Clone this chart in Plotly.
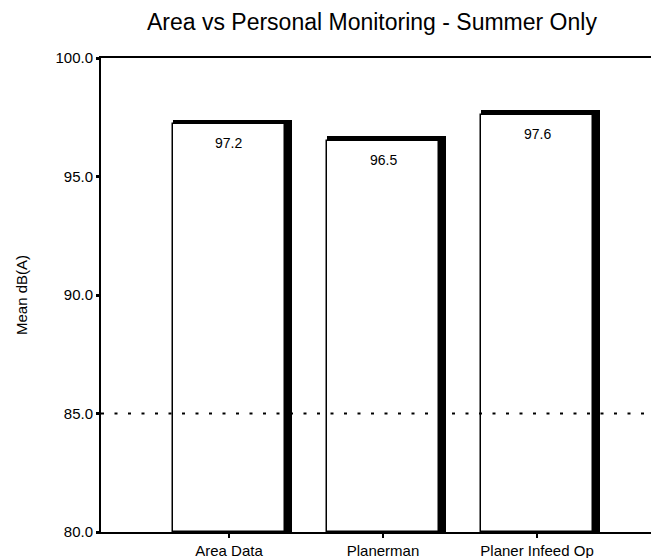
import plotly.graph_objects as go

categories = ['Area Data', 'Planerman', 'Planer Infeed Op']
mean_dba = [97.2, 96.5, 97.6]
value_labels = ['97.2', '96.5', '97.6']
limit_dba = 85.0

font_family = 'Liberation Sans, Arial, sans-serif'
x_pos = list(range(len(categories)))

fig = go.Figure()

# black "shadow" bar behind, shifted right and up a little
fig.add_trace(go.Bar(x=x_pos, y=[v - 80 + 0.19 for v in mean_dba], base=80,
                     width=0.775, offset=-0.365,
                     marker=dict(color='black', line=dict(width=0)),
                     hoverinfo='skip', showlegend=False))

# white bar with thin outline
fig.add_trace(go.Bar(x=x_pos, y=[v - 80 for v in mean_dba], base=80,
                     width=0.73, offset=-0.365,
                     marker=dict(color='white', line=dict(color='black', width=1.5)),
                     showlegend=False))

for xp, v, lab in zip(x_pos, mean_dba, value_labels):
    fig.add_annotation(x=xp, y=v, text=lab, showarrow=False, yanchor='top', yshift=-9,
                       font=dict(family=font_family, size=14, color='black'))

# 85 dB(A) reference line
fig.add_shape(type='line', xref='paper', x0=0, x1=1, yref='y', y0=limit_dba, y1=limit_dba,
              line=dict(color='black', width=2, dash='3px,10.5px'))

# page body has an 8px margin, so the figure is 8px smaller than the window
fig.update_layout(
    width=651, height=550,
    margin=dict(l=93, r=0, t=50, b=26),
    paper_bgcolor='white', plot_bgcolor='white',
    barmode='overlay', bargap=0,
    title=dict(text='Area vs Personal Monitoring - Summer Only', x=0.559, xanchor='center',
               y=0.975, yanchor='middle',
               font=dict(family=font_family, size=23, color='black')),
    font=dict(family=font_family, color='black'),
)

fig.update_xaxes(range=[-0.831, 2.792], tickmode='array', tickvals=x_pos, ticktext=categories,
                 showline=True, linecolor='black', linewidth=2, mirror=True,
                 ticks='outside', ticklen=4, tickwidth=2, tickcolor='black',
                 showgrid=False, zeroline=False,
                 tickfont=dict(family=font_family, size=15, color='black'))

fig.update_yaxes(range=[80, 100], dtick=5, tickformat='.1f',
                 showline=True, linecolor='black', linewidth=2, mirror=False,
                 ticks='outside', ticklen=3, tickwidth=3, tickcolor='black',
                 showgrid=False, zeroline=False,
                 title=dict(text='Mean dB(A)', standoff=24,
                            font=dict(family=font_family, size=15, color='black')),
                 tickfont=dict(family=font_family, size=15, color='black'))

fig.write_html('out.html')
